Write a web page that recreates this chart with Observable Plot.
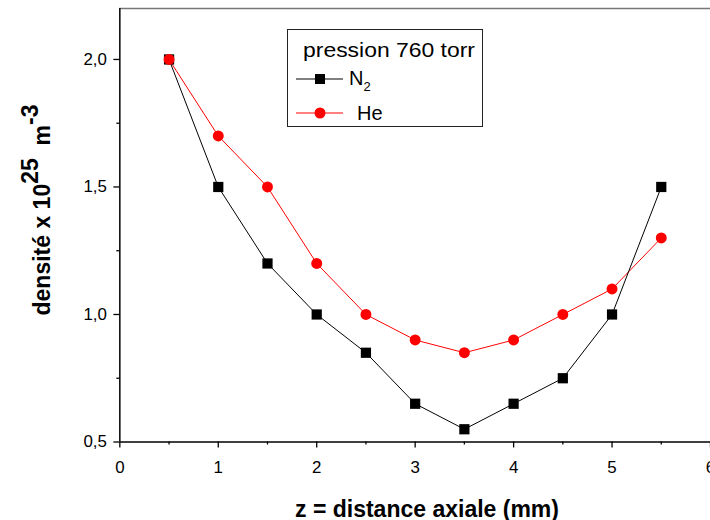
<!DOCTYPE html>
<html>
<head>
<meta charset="utf-8">
<script src="https://cdn.jsdelivr.net/npm/d3@7"></script>
<script src="https://cdn.jsdelivr.net/npm/@observablehq/plot@0.6"></script>
<style>
  html, body { margin: 0; padding: 0; background: #fff; }
  #wrap { position: relative; width: 710px; height: 520px; overflow: hidden; font-family: "Liberation Sans", Arial, sans-serif; }
  #chart { position: absolute; left: 0; top: 0; }
  .ylab { position: absolute; left: 38px; top: 210px; transform: translate(-50%, -50%) rotate(-90deg); white-space: nowrap; font-weight: bold; font-size: 23px; color: #000; }
  .ylab sup { font-size: 23px; position: relative; top: -3px; }
  .xlab { position: absolute; left: 427px; top: 509px; transform: translate(-50%, -50%); white-space: nowrap; font-weight: bold; font-size: 23px; color: #000; }
  #legend { position: absolute; left: 0; top: 0; }
</style>
</head>
<body>
<div id="wrap">
  <div id="chart"></div>
  <div class="ylab">densité x 10<sup>25</sup>&nbsp; m<sup>-3</sup></div>
  <div class="xlab">z = distance axiale (mm)</div>
  <svg id="legend" width="710" height="520" style="pointer-events:none">
    <rect x="287.5" y="29.5" width="195" height="97" fill="#fff" stroke="#222" stroke-width="1"/>
    <text x="303" y="57" font-family="Liberation Sans, Arial" font-size="20" textLength="172" lengthAdjust="spacingAndGlyphs">pression 760 torr</text>
    <line x1="296" x2="343" y1="79" y2="79" stroke="#000" stroke-width="1"/>
    <rect x="315" y="74" width="10" height="10" fill="#000"/>
    <text x="349" y="85" font-family="Liberation Sans, Arial" font-size="20">N<tspan font-size="13" dy="6">2</tspan></text>
    <line x1="296" x2="343" y1="113" y2="113" stroke="#ff0000" stroke-width="1"/>
    <circle cx="320" cy="113" r="5.5" fill="#ff0000"/>
    <text x="357" y="120" font-family="Liberation Sans, Arial" font-size="20">He</text>
  </svg>
</div>
<script>
const z = [0.5, 1.0, 1.5, 2.0, 2.5, 3.0, 3.5, 4.0, 4.5, 5.0, 5.5];
const n2 = [2.0, 1.5, 1.2, 1.0, 0.85, 0.65, 0.55, 0.65, 0.75, 1.0, 1.5];
const he = [2.0, 1.7, 1.5, 1.2, 1.0, 0.9, 0.85, 0.9, 1.0, 1.1, 1.3];
const xTicks = [0, 1, 2, 3, 4, 5, 6];
const xMinor = [0.5, 1.5, 2.5, 3.5, 4.5, 5.5];
const yTicks = [0.5, 1.0, 1.5, 2.0];
const yMinor = [0.75, 1.25, 1.75];

const dN2 = z.map((v, i) => ({z: v, d: n2[i]}));
const dHe = z.map((v, i) => ({z: v, d: he[i]}));
const fmt = d => d.toFixed(1).replace(".", ",");

const chart = Plot.plot({
  width: 714,
  height: 520,
  marginLeft: 120,
  marginRight: 0,
  marginTop: 8,
  marginBottom: 76,
  style: {fontFamily: "Liberation Sans, Arial, sans-serif", fontSize: "17px", color: "#000", background: "transparent"},
  x: {domain: [0, 6]},
  y: {domain: [0.5, 2.2]},
  marks: [
    Plot.ruleY([2.2], {stroke: "#777", strokeWidth: 1.5}),
    Plot.axisY(yTicks, {tickSize: 6, tickPadding: 7, tickFormat: fmt, fontSize: 17, label: null, strokeWidth: 1.3}),
    Plot.axisY(yMinor, {tickSize: 3, tickFormat: () => "", label: null, strokeWidth: 1.3}),
    Plot.axisX(xTicks, {tickSize: 6, tickPadding: 13, fontSize: 17, label: null, strokeWidth: 1.3}),
    Plot.axisX(xMinor, {tickSize: 3, tickFormat: () => "", label: null, strokeWidth: 1.3}),
    Plot.ruleX([0], {stroke: "#000", strokeWidth: 1.5}),
    Plot.ruleY([0.5], {stroke: "#000", strokeWidth: 1.5}),
    Plot.line(dHe, {x: "z", y: "d", stroke: "#ff0000", strokeWidth: 1}),
    Plot.line(dN2, {x: "z", y: "d", stroke: "#000", strokeWidth: 1}),
    Plot.dot(dN2, {x: "z", y: "d", symbol: "square", r: 5.8, fill: "#000", stroke: "none"}),
    Plot.dot(dHe, {x: "z", y: "d", symbol: "circle", r: 5.5, fill: "#ff0000", stroke: "none"})
  ]
});
document.getElementById("chart").appendChild(chart);
</script>
</body>
</html>
